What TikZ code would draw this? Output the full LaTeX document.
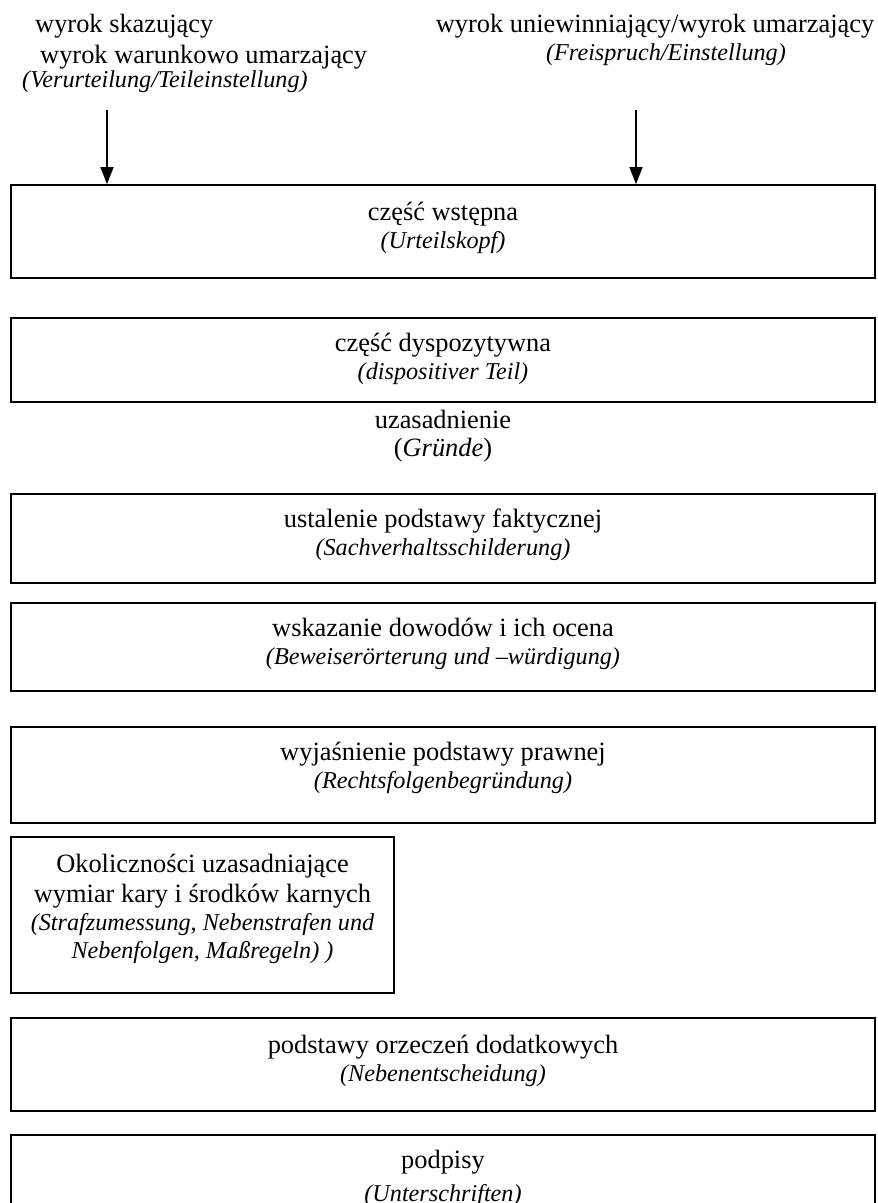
\documentclass[tikz,border=0pt]{standalone}
\usepackage{fontspec}
\setmainfont{Liberation Serif}
\usetikzlibrary{arrows.meta}
\begin{document}
\begin{tikzpicture}[x=1pt,y=-1pt,
  part/.style={draw=black,line width=1.8pt,rectangle,inner sep=0pt},
  txt/.style={anchor=base,inner sep=0pt,font=\fontsize{26.4}{30}\selectfont},
  itl/.style={anchor=base,inner sep=0pt,font=\fontsize{24.2}{28}\selectfont\itshape},
  feed/.style={line width=1.5pt,-{Triangle[length=17pt,width=13pt]}}]
\clip (0,0) rectangle (878,1203);
\fill[white] (0,0) rectangle (878,1203);

% verdict types above the head of the judgement
\node[txt,anchor=base west] (k1) at (35,32) {wyrok skazujący};
\node[txt,anchor=base west] (k2) at (40,63) {wyrok warunkowo umarzający};
\node[itl,anchor=base west] (k3) at (22,87) {(Verurteilung/Teileinstellung)};
\node[txt] (f1) at (655,32) {wyrok uniewinniający/wyrok umarzający};
\node[itl] (f2) at (666,60) {(Freispruch/Einstellung)};

% parts of the judgement
\node[part,minimum width=864pt,minimum height=93pt] (b1) at (443,231.5) {};
\node[txt] (b1a) at (443,220) {część wstępna};
\node[itl] (b1b) at (443,248) {(Urteilskopf)};

\node[part,minimum width=864pt,minimum height=84pt] (b2) at (443,360) {};
\node[txt] (b2a) at (443,351) {część dyspozytywna};
\node[itl] (b2b) at (443,379) {(dispositiver Teil)};

\node[txt] (u1) at (443,428) {uzasadnienie};
\node[txt] (u2) at (443,456) {(\textit{Gründe})};

\node[part,minimum width=864pt,minimum height=89pt] (b3) at (443,538.5) {};
\node[txt] (b3a) at (443,527) {ustalenie podstawy faktycznej};
\node[itl] (b3b) at (443,555) {(Sachverhaltsschilderung)};

\node[part,minimum width=864pt,minimum height=88pt] (b4) at (443,647) {};
\node[txt] (b4a) at (443,636) {wskazanie dowodów i ich ocena};
\node[itl] (b4b) at (443,664) {(Beweiserörterung und –würdigung)};

\node[part,minimum width=864pt,minimum height=96pt] (b5) at (443,775) {};
\node[txt] (b5a) at (443,760) {wyjaśnienie podstawy prawnej};
\node[itl] (b5b) at (443,788) {(Rechtsfolgenbegründung)};

\node[part,minimum width=383pt,minimum height=156pt] (b6) at (202.5,915) {};
\node[txt] (b6a) at (202.5,872) {Okoliczności uzasadniające};
\node[txt] (b6b) at (202.5,902) {wymiar kary i środków karnych};
\node[itl] (b6c) at (202.5,930) {(Strafzumessung, Nebenstrafen und};
\node[itl] (b6d) at (202.5,958) {Nebenfolgen, Maßregeln) )};

\node[part,minimum width=864pt,minimum height=93pt] (b7) at (443,1064.5) {};
\node[txt] (b7a) at (443,1053) {podstawy orzeczeń dodatkowych};
\node[itl] (b7b) at (443,1081) {(Nebenentscheidung)};

\node[part,minimum width=864pt,minimum height=110pt] (b8) at (443,1190) {};
\node[txt] (b8a) at (443,1168) {podpisy};
\node[itl] (b8b) at (443,1201) {(Unterschriften)};

% arrows into the head of the judgement
\coordinate (s1) at (107,110);
\coordinate (s2) at (636,110);
\draw[feed] (s1) -- (s1 |- b1.north);
\draw[feed] (s2) -- (s2 |- b1.north);
\end{tikzpicture}
\end{document}
